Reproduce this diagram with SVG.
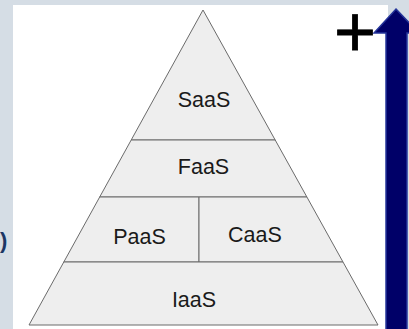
<svg xmlns="http://www.w3.org/2000/svg" width="409" height="329" viewBox="0 0 409 329">
  <style>
    .tier { fill: #eeeeee; stroke: #6b6b6b; stroke-width: 1; stroke-linejoin: miter; }
    .lbl { font-family: "Liberation Sans", Arial, sans-serif; font-size: 21.5px; fill: #1a1a1a; text-anchor: middle; }
  </style>
  <rect x="0" y="0" width="409" height="329" fill="#d5dde5"/>
  <rect x="13" y="5" width="375" height="324" fill="#ffffff"/>
  <text x="0" y="248" font-family="Liberation Sans, Arial, sans-serif" font-size="22" font-weight="bold" fill="#1c3664">)</text>

  <g id="saas">
    <polygon class="tier" points="203,10 131.2,140 275.2,140"/>
    <text class="lbl" x="204" y="107">SaaS</text>
  </g>
  <g id="faas">
    <polygon class="tier" points="131.2,140 275.2,140 306.9,197 99.7,197"/>
    <text class="lbl" x="203.5" y="174">FaaS</text>
  </g>
  <g id="paas">
    <polygon class="tier" points="99.7,197 199,197 199,262 63.8,262"/>
    <text class="lbl" x="139.5" y="244">PaaS</text>
  </g>
  <g id="caas">
    <polygon class="tier" points="199,197 306.9,197 343,262 199,262"/>
    <text class="lbl" x="255" y="242">CaaS</text>
  </g>
  <g id="iaas">
    <polygon class="tier" points="63.8,262 343,262 378,325 29,325"/>
    <text class="lbl" x="194" y="307">IaaS</text>
  </g>

  <g id="connectors">
    <polygon points="396,9 419,33 407,33 407,335 386,335 386,33 374,33" fill="#000068" stroke="#25359a" stroke-width="1.5" stroke-linejoin="miter"/>
  </g>
  <text x="355" y="56" font-family="Liberation Sans, Arial, sans-serif" font-size="72" fill="#000000" text-anchor="middle" stroke="#000000" stroke-width="0.8">+</text>
</svg>
